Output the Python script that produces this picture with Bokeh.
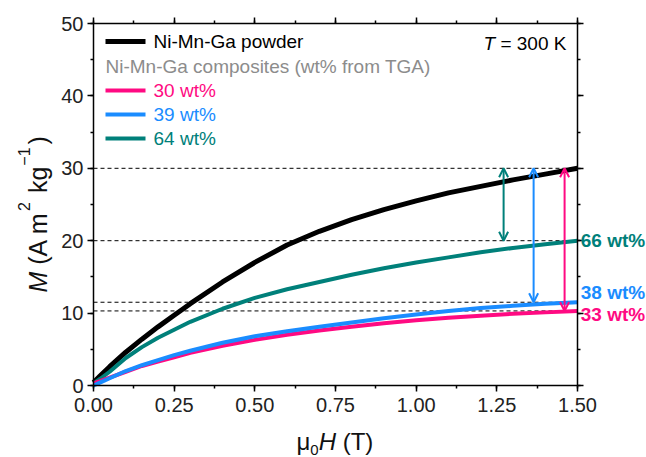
import math

from bokeh.embed import file_html
from bokeh.models import (Arrow, CustomJSTickFormatter, Label, LinearAxis, NumeralTickFormatter,
                          OpenHead, Range1d, SingleIntervalTicker)
from bokeh.plotting import figure
from bokeh.resources import INLINE

# Magnetisation curves M(H) at 300 K
field = [0.0, 0.02, 0.05, 0.1, 0.15, 0.2, 0.25, 0.3, 0.4, 0.5, 0.6, 0.7,
         0.8, 0.9, 1.0, 1.1, 1.2, 1.3, 1.4, 1.5]
m_powder = [0.4, 1.3, 2.6, 4.6, 6.4, 8.1, 9.7, 11.3, 14.3, 17.0, 19.4, 21.3,
            22.9, 24.3, 25.5, 26.6, 27.5, 28.4, 29.2, 30.0]
m_30wt = [0.3, 0.6, 1.1, 1.9, 2.7, 3.3, 3.9, 4.5, 5.5, 6.3, 7.0, 7.6,
          8.1, 8.6, 9.0, 9.35, 9.65, 9.9, 10.1, 10.3]
m_39wt = [0.0, 0.4, 1.0, 2.0, 2.8, 3.5, 4.2, 4.8, 5.9, 6.8, 7.5, 8.1,
          8.7, 9.3, 9.8, 10.3, 10.7, 11.0, 11.3, 11.5]
m_64wt = [0.3, 0.9, 1.9, 3.8, 5.3, 6.6, 7.7, 8.8, 10.6, 12.1, 13.3, 14.3,
          15.3, 16.2, 17.0, 17.7, 18.4, 19.0, 19.5, 20.0]

# Saturation reference levels (dashed) and ratio arrows
ref_levels = [30.0, 20.0, 11.5, 10.3]
arrow_x = [1.271, 1.364, 1.460]
arrow_bottom = [20.0, 11.5, 10.3]
arrow_top = 30.0
ratio_labels = ["66 wt%", "38 wt%", "33 wt%"]
ratio_y = [20.0, 12.85, 9.8]

legend_labels = ["Ni-Mn-Ga powder", "Ni-Mn-Ga composites (wt% from TGA)", "30 wt%", "39 wt%", "64 wt%"]

X_MIN, X_MAX = 0.0, 1.5
Y_MIN, Y_MAX = 0.0, 50.0

BLACK = "#000000"
PINK = "#FF0A82"
BLUE = "#1A8CFF"
TEAL = "#00807A"
GREY = "#8C8C8C"
FONT = "Liberation Sans"

# Page geometry: the plotting box sits inside a full-canvas frame, so that
# titles and side labels drawn as annotations are never clipped.
W, H = 646, 457
BOX_L, BOX_R, BOX_T, BOX_B = 93, 577, 23, 385
sx = (BOX_R - BOX_L) / (X_MAX - X_MIN)
sy = (BOX_B - BOX_T) / (Y_MAX - Y_MIN)
x_range = Range1d(X_MIN - BOX_L / sx, X_MAX + (W - BOX_R) / sx)
y_range = Range1d(Y_MIN - (H - BOX_B) / sy, Y_MAX + BOX_T / sy)

p = figure(width=W, height=H, x_range=x_range, y_range=y_range,
           output_backend="svg", toolbar_location=None,
           min_border_left=0, min_border_right=0, min_border_top=0, min_border_bottom=0)
p.title.visible = False
p.xgrid.visible = False
p.ygrid.visible = False
p.outline_line_color = None
p.background_fill_color = "white"
p.border_fill_color = "white"


def style_axis(ax, labels=True):
    ax.axis_line_width = 1.5
    ax.major_tick_line_width = 1.5
    ax.minor_tick_line_width = 1.5
    ax.major_tick_out = 6
    ax.major_tick_in = 0
    ax.minor_tick_out = 3
    ax.minor_tick_in = 0
    ax.major_label_text_font = FONT
    ax.major_label_text_font_size = "20px"
    ax.major_label_text_color = "#222222"
    if not labels:
        ax.formatter = CustomJSTickFormatter(code="return ''")


xaxis = p.xaxis[0]
yaxis = p.yaxis[0]
xaxis.ticker = SingleIntervalTicker(interval=0.25, num_minor_ticks=2)
xaxis.formatter = NumeralTickFormatter(format="0.00")
xaxis.fixed_location = Y_MIN
xaxis.bounds = (X_MIN, X_MAX)
yaxis.ticker = SingleIntervalTicker(interval=10, num_minor_ticks=2)
yaxis.fixed_location = X_MIN
yaxis.bounds = (Y_MIN, Y_MAX)
style_axis(xaxis)
style_axis(yaxis)
xaxis.major_label_standoff = 6
yaxis.major_label_standoff = 4

top_ax = LinearAxis(ticker=SingleIntervalTicker(interval=0.25, num_minor_ticks=2),
                    fixed_location=Y_MAX, bounds=(X_MIN, X_MAX))
right_ax = LinearAxis(ticker=SingleIntervalTicker(interval=10, num_minor_ticks=2),
                      fixed_location=X_MAX, bounds=(Y_MIN, Y_MAX))
style_axis(top_ax, labels=False)
style_axis(right_ax, labels=False)
p.add_layout(top_ax, "above")
p.add_layout(right_ax, "right")

# Dashed reference levels across the box
p.segment(x0=[X_MIN] * len(ref_levels), x1=[X_MAX] * len(ref_levels),
          y0=ref_levels, y1=ref_levels, line_color="black", line_width=1, line_dash="4 3")

# Curves
p.line(field, m_powder, line_color=BLACK, line_width=5)
p.line(field, m_64wt, line_color=TEAL, line_width=4)
p.line(field, m_30wt, line_color=PINK, line_width=4)
p.line(field, m_39wt, line_color=BLUE, line_width=4)

# Double-headed arrows between the powder level and each composite level
for xa, yb, col in zip(arrow_x, arrow_bottom, [TEAL, BLUE, PINK]):
    p.add_layout(Arrow(x_start=xa, y_start=yb, x_end=xa, y_end=arrow_top,
                       line_color=col, line_width=2,
                       start=OpenHead(size=9, line_color=col, line_width=2),
                       end=OpenHead(size=9, line_color=col, line_width=2)))

# Ratio labels right of the box
for txt, yv, col in zip(ratio_labels, ratio_y, [TEAL, BLUE, PINK]):
    p.add_layout(Label(x=1.51, y=yv, text=txt, text_color=col, text_font=FONT,
                       text_font_size="19px", text_font_style="bold",
                       text_baseline="middle", text_align="left"))


def scr(y_top):
    """Canvas row (from top) to frame screen units (from bottom)."""
    return H - y_top


# Hand-drawn legend (swatch + coloured text)
row_y = [41, 65.5, 90, 114, 138]
row_col = [BLACK, GREY, PINK, BLUE, TEAL]
for i, (txt, yy, col) in enumerate(zip(legend_labels, row_y, row_col)):
    if i != 1:
        p.add_layout(Arrow(x_start=105, y_start=scr(yy), x_end=145, y_end=scr(yy),
                           start_units="screen", end_units="screen", start=None, end=None,
                           line_color=col, line_width=5 if i == 0 else 4))
        tx = 153
    else:
        tx = 105
    p.add_layout(Label(x=tx, y=scr(yy), x_units="screen", y_units="screen",
                       text=txt, text_color=col, text_font=FONT, text_font_size="19px",
                       text_baseline="middle", text_align="left"))

# Approximate advance widths (em) for composing rich text runs
ADV = {" ": 0.278, "(": 0.333, ")": 0.333, "A": 0.667, "m": 0.833, "k": 0.5, "g": 0.556,
       "M": 0.833, "H": 0.722, "T": 0.611, "μ": 0.576, "K": 0.667, "=": 0.584,
       "−": 0.584}


def text_width(s, size):
    return sum(ADV.get(c, 0.556) for c in s) * size


def rich_text(pieces, start, base, vertical, color="#111111"):
    """pieces: (text, size, style, shift, gap) laid out along the text direction,
    centred on `base` across it; leading blanks become plain advance."""
    pos = start
    for txt, size, style, shift, gap in pieces:
        pos += gap
        stripped = txt.lstrip(" ")
        pos += text_width(txt[:len(txt) - len(stripped)], size)
        if vertical:
            lab = Label(x=base - shift, y=pos, angle=math.pi / 2, text=stripped)
        else:
            lab = Label(x=pos, y=base + shift, text=stripped)
        lab.x_units = "screen"
        lab.y_units = "screen"
        lab.text_font = FONT
        lab.text_font_size = f"{size}px"
        lab.text_font_style = style
        lab.text_color = color
        lab.text_align = "left"
        lab.text_baseline = "middle"
        p.add_layout(lab)
        pos += text_width(stripped, size)


# Temperature note
rich_text([("T", 19, "italic", 0, 0), (" = 300 K", 19, "normal", 0, 0)],
          start=483, base=scr(43), vertical=False, color="#000000")

# x title: mu_0 H (T)
rich_text([("μ", 24, "normal", 0, 0), ("0", 15, "normal", -8, 0), ("H", 24, "italic", 0, 0),
           (" (T)", 24, "normal", 0, 0)], start=296, base=scr(441), vertical=False)
# y title: M (A m^2 kg^-1)
rich_text([("M", 25, "italic", 0, 0), (" (A m", 25, "normal", 0, 0), ("2", 16, "normal", 14, 1),
           (" kg", 25, "normal", 0, 2), ("−1", 16, "normal", 14, 1), (")", 25, "normal", 0, 3)],
          start=scr(292), base=37, vertical=True)

open("out.html", "w").write(file_html(p, INLINE))
